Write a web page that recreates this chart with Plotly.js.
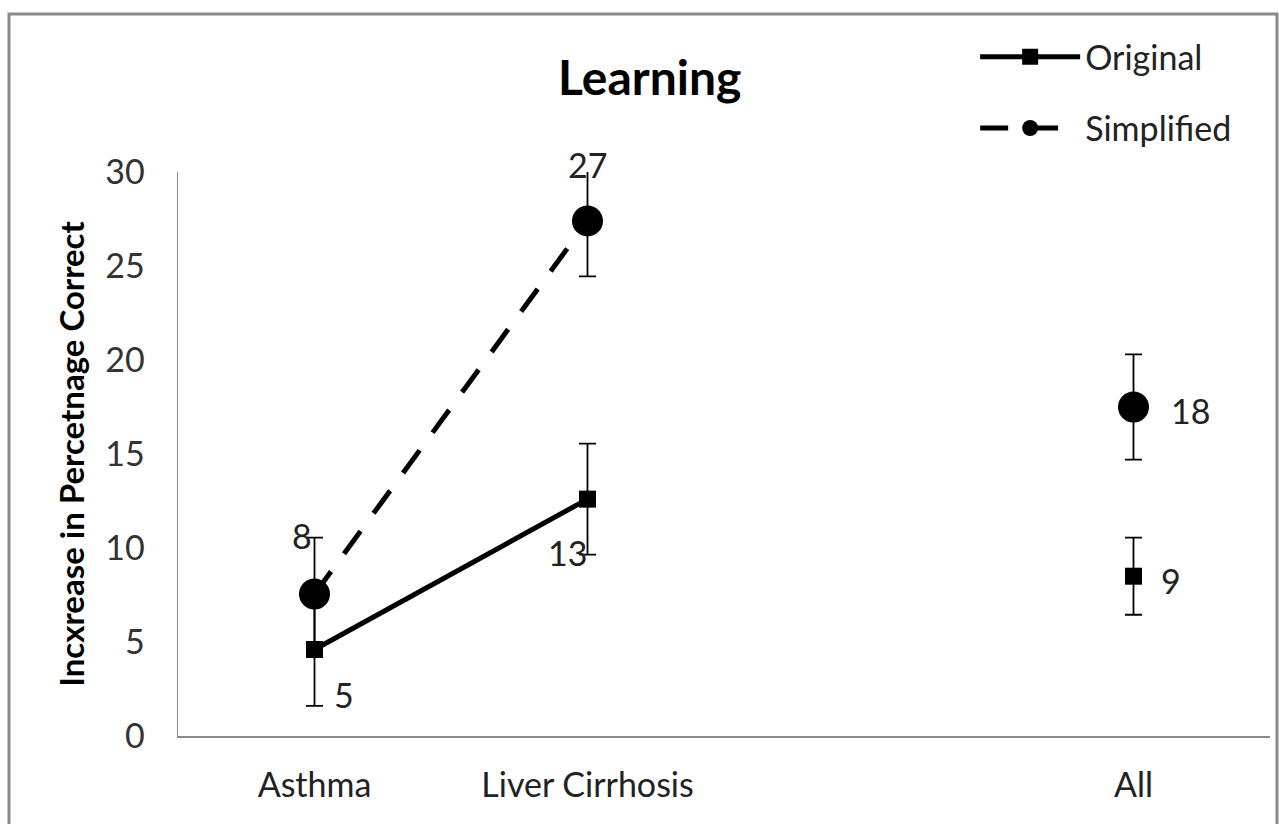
<!DOCTYPE html>
<html>
<head>
<meta charset="utf-8">
<script src="https://cdn.plot.ly/plotly-3.0.1.min.js"></script>
<style>
  html, body { margin: 0; padding: 0; background: #fff; }
  #chart { width: 1279px; height: 824px; }
</style>
</head>
<body>
<div id="chart"></div>
<script>
// Categories on the x axis (third slot is an empty spacer before "All")
const categories = ["Asthma", "Liver Cirrhosis", "", "All"];

// Mean increase in percentage correct, per condition
const originalValues   = [4.6, 12.6, null, 8.5];
const simplifiedValues = [7.55, 27.4, null, 17.5];

// Error bar half-lengths
const originalErrors   = [3.0, 2.95, null, 2.05];
const simplifiedErrors = [3.0, 2.95, null, 2.8];

const yTicks = [0, 5, 10, 15, 20, 25, 30];

const xPos = categories.map((c, i) => i);
const FONT = "Lato, 'Open Sans', sans-serif";
const TEXT_SIZE = 34;

const original = {
  x: xPos, y: originalValues, name: "Original",
  type: "scatter", mode: "lines+markers", connectgaps: false,
  line: { color: "#000", width: 5 },
  marker: { symbol: "square", size: 17, color: "#000" },
  error_y: { type: "data", array: originalErrors, visible: true,
             color: "#000", thickness: 1.8, width: 8.5 },
  legendgroup: "a"
};

const simplified = {
  x: xPos, y: simplifiedValues, name: "Simplified",
  type: "scatter", mode: "lines+markers", connectgaps: false,
  line: { color: "#000", width: 5, dash: "28px,22px" },
  marker: { symbol: "circle", size: 31, color: "#000" },
  error_y: { type: "data", array: simplifiedErrors, visible: true,
             color: "#000", thickness: 1.8, width: 8.5 },
  legendgroup: "b"
};

// Value labels: pixel offsets from each point
const origLabelShift = [[29, -45], [-20, -53], null, [37, -4]];
const simpLabelShift = [[-13, 59], [0, 56], null, [57, -3]];

const annotations = [];
function addLabels(values, shifts) {
  values.forEach((v, i) => {
    if (v === null) return;
    annotations.push({
      x: xPos[i], y: v, xref: "x", yref: "y",
      text: String(Math.round(v)), showarrow: false,
      xshift: shifts[i][0], yshift: shifts[i][1],
      font: { family: FONT, size: TEXT_SIZE, color: "#222" }
    });
  });
}
addLabels(originalValues, origLabelShift);
addLabels(simplifiedValues, simpLabelShift);

const layout = {
  width: 1279, height: 824,
  margin: { l: 178, r: 9, t: 172, b: 88 },
  paper_bgcolor: "#fff", plot_bgcolor: "#fff",
  font: { family: FONT, color: "#222" },
  title: {
    text: "<b>Learning</b>",
    font: { family: FONT, size: 48, color: "#000" },
    x: 0.508, xref: "container", xanchor: "center",
    y: 1 - 78 / 824, yref: "container", yanchor: "middle"
  },
  xaxis: {
    range: [-0.5, 3.5],
    tickvals: xPos, ticktext: categories,
    showgrid: false, zeroline: false,
    showline: true, linecolor: "#8a8a8a", linewidth: 1.5,
    ticks: "", ticklabelstandoff: 19,
    tickfont: { family: FONT, size: TEXT_SIZE, color: "#222" },
    fixedrange: true
  },
  yaxis: {
    range: [0, 30],
    tickvals: yTicks,
    showgrid: false, zeroline: false,
    showline: true, linecolor: "#8a8a8a", linewidth: 1.5,
    ticks: "", ticklabelstandoff: 25,
    tickfont: { family: FONT, size: TEXT_SIZE, color: "#333" },
    title: { text: "<b>Incxrease in Percetnage Correct</b>",
             font: { family: FONT, size: 33, color: "#000" }, standoff: 10 },
    fixedrange: true
  },
  legend: {
    x: 0.73, y: 1.255, xanchor: "left", yanchor: "top",
    traceorder: "grouped", tracegroupgap: 24,
    itemwidth: 100,
    font: { family: FONT, size: TEXT_SIZE, color: "#222" },
    bgcolor: "rgba(0,0,0,0)"
  },
  annotations: annotations,
  shapes: [{
    type: "rect", xref: "paper", yref: "paper",
    x0: (9 - 178) / 1092, x1: (1277 - 178) / 1092,
    y0: (736 - 830) / 564, y1: (736 - 14) / 564,
    line: { color: "#8a8a8a", width: 3 }, fillcolor: "rgba(0,0,0,0)",
    layer: "below"
  }]
};

Plotly.newPlot("chart", [original, simplified], layout,
  { displayModeBar: false, staticPlot: true });
</script>
</body>
</html>
